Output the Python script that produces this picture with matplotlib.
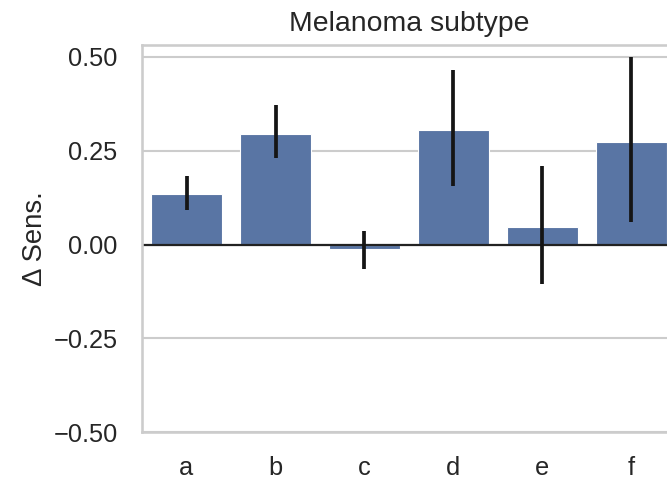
import matplotlib
matplotlib.use("Agg")
import matplotlib.pyplot as plt
import seaborn as sns
import numpy as np

categories = ["a", "b", "c", "d", "e", "f"]
values = [0.134, 0.295, -0.012, 0.306, 0.047, 0.274]
err_low = [0.091, 0.230, -0.064, 0.155, -0.104, 0.059]
err_high = [0.183, 0.372, 0.035, 0.465, 0.209, 0.500]
yticks = [-0.50, -0.25, 0.00, 0.25, 0.50]

sns.set_theme(style="whitegrid", context="talk")
plt.rcParams['font.family'] = ['Liberation Sans', 'DejaVu Sans']

fig = plt.figure(figsize=(6.67, 4.82), dpi=100)
ax = fig.add_axes([142/667, 1-432/482, (676-142)/667, (432-45)/482])

x = np.arange(len(categories))
color = sns.desaturate(sns.color_palette("deep")[0], 0.75)
ax.bar(x, values, width=0.8, color=color, edgecolor="white", linewidth=0.8, zorder=2)
yerr = [np.array(values) - np.array(err_low), np.array(err_high) - np.array(values)]
ax.errorbar(x, values, yerr=yerr, fmt="none", ecolor="#151515", elinewidth=2.7, capsize=0, zorder=3)
ax.axhline(0, color="#222222", lw=1.6, zorder=2.5)

ax.set_xlim(-0.5, len(categories) - 0.5)
ax.set_ylim(-0.5, 0.532)
ax.set_yticks(yticks)
ax.set_yticklabels([f"{v:.2f}".replace("-", "\u2212") for v in yticks])
ax.set_xticks(x)
ax.set_xticklabels(categories)
ax.tick_params(axis="both", labelsize=18.3, pad=17.5, length=0)
ax.xaxis.grid(False)
ax.set_axisbelow(True)
ax.set_ylabel("\u0394 Sens.", fontsize=19.8, labelpad=4)
ax.set_title("Melanoma subtype", fontsize=20.4, pad=10)

fig.savefig("out.png", dpi=100)
